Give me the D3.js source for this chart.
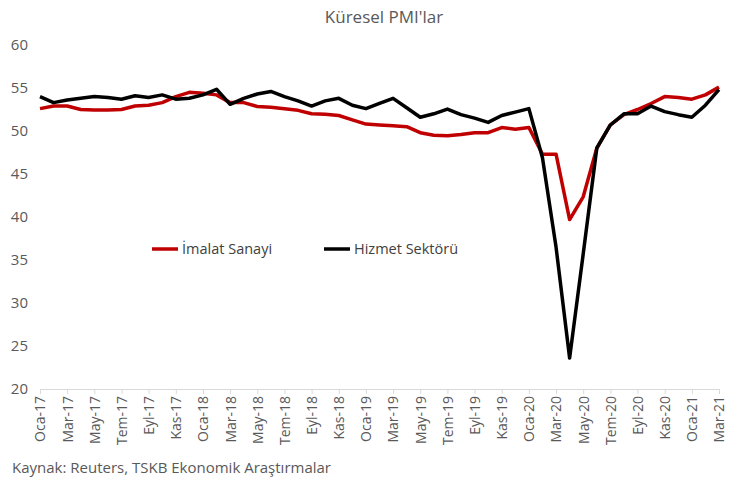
<!DOCTYPE html>
<html>
<head>
<meta charset="utf-8">
<script src="https://cdn.jsdelivr.net/npm/d3@7"></script>
<style>
  body { margin: 0; background: #fff; }
  text { font-family: "Open Sans", "Liberation Sans", sans-serif; }
</style>
</head>
<body>
<div id="chart"></div>
<script>
// Aylar (Oca-17 .. Mar-21)
const monthNames = ["Oca", "Şub", "Mar", "Nis", "May", "Haz", "Tem", "Ağu", "Eyl", "Eki", "Kas", "Ara"];
const months = [];
for (let y = 17; y <= 21; y++) {
  for (let m = 0; m < 12; m++) {
    if (y === 21 && m > 2) break;
    months.push(monthNames[m] + "-" + y);
  }
}

const imalat = [
  52.6, 52.9, 52.9, 52.5, 52.45, 52.45, 52.5, 52.9, 53.0, 53.3, 54.0, 54.5,
  54.4, 54.2, 53.3, 53.3, 52.85, 52.75, 52.6, 52.4, 52.0, 51.95, 51.8, 51.3,
  50.8, 50.7, 50.6, 50.5, 49.8, 49.5, 49.45, 49.6, 49.8, 49.8, 50.4, 50.2,
  50.4, 47.3, 47.3, 39.7, 42.35, 48.0, 50.7, 51.9, 52.5, 53.2, 54.0, 53.9,
  53.7, 54.2, 55.1
];

const hizmet = [
  54.0, 53.3, 53.6, 53.8, 54.0, 53.9, 53.7, 54.1, 53.9, 54.2, 53.7, 53.8,
  54.2, 54.85, 53.1, 53.8, 54.3, 54.6, 54.0, 53.5, 52.9, 53.5, 53.8, 53.0,
  52.6, 53.2, 53.8, 52.7, 51.6, 52.0, 52.55, 51.9, 51.5, 51.0, 51.8, 52.2,
  52.6, 46.9, 36.5, 23.6, 35.7, 48.0, 50.7, 52.0, 52.0, 52.9, 52.25, 51.9,
  51.6, 53.0, 54.8
];

const yTicks = [20, 25, 30, 35, 40, 45, 50, 55, 60];

const series = [
  { name: "İmalat Sanayi", values: imalat, color: "#C00000" },
  { name: "Hizmet Sektörü", values: hizmet, color: "#000000" },
];

const width = 740;
const height = 483;
const margin = { left: 40, right: 21, top: 45, bottom: 94 };

const svg = d3
  .select("#chart")
  .append("svg")
  .attr("width", width)
  .attr("height", height);

const xScale = d3
  .scalePoint()
  .domain(months)
  .range([margin.left, width - margin.right]);

const yScale = d3
  .scaleLinear()
  .domain([20, 60])
  .range([height - margin.bottom, margin.top]);

// Başlık
svg
  .append("text")
  .attr("x", 384)
  .attr("y", 23)
  .attr("text-anchor", "middle")
  .attr("font-size", "17px")
  .attr("fill", "#595959")
  .text("Küresel PMI'lar");

// Y ekseni (sadece etiketler)
const yAxis = svg
  .append("g")
  .attr("transform", `translate(${margin.left - 12}, 0)`)
  .call(d3.axisLeft(yScale).tickValues(yTicks).tickSize(0).tickPadding(0));
yAxis.select(".domain").remove();
yAxis
  .selectAll("text")
  .attr("font-size", "15px")
  .attr("fill", "#595959")
  .attr("font-family", "Open Sans, Liberation Sans, sans-serif");

// X ekseni
const labelMonths = months.filter((d, i) => i % 2 === 0);
const xAxis = svg
  .append("g")
  .attr("transform", `translate(0, ${height - margin.bottom})`)
  .call(d3.axisBottom(xScale).tickValues(labelMonths).tickSize(5).tickSizeOuter(0));
xAxis.select(".domain").attr("stroke", "#d9d9d9");
xAxis.selectAll(".tick line").attr("stroke", "#d9d9d9");
xAxis
  .selectAll("text")
  .attr("font-size", "14px")
  .attr("fill", "#595959")
  .attr("font-family", "Open Sans, Liberation Sans, sans-serif")
  .attr("text-anchor", "end")
  .attr("dy", "0.35em")
  .attr("transform", "translate(0, 7) rotate(-90)")
  .attr("x", 0)
  .attr("y", 0);

// Çizgiler
const line = d3
  .line()
  .x((d, i) => xScale(months[i]))
  .y((d) => yScale(d))
  .curve(d3.curveLinear);

series.forEach((s) => {
  svg
    .append("path")
    .datum(s.values)
    .attr("fill", "none")
    .attr("stroke", s.color)
    .attr("stroke-width", 3.5)
    .attr("stroke-linejoin", "round")
    .attr("d", line);
});

// Lejant
const legendItems = [
  { x: 152, text: "İmalat Sanayi", color: "#C00000" },
  { x: 324, text: "Hizmet Sektörü", color: "#000000" },
];
const legend = svg.append("g").attr("transform", "translate(0, 249)");
legendItems.forEach((d) => {
  legend
    .append("line")
    .attr("x1", d.x)
    .attr("x2", d.x + 26)
    .attr("y1", 0)
    .attr("y2", 0)
    .attr("stroke", d.color)
    .attr("stroke-width", 3.5);
  legend
    .append("text")
    .attr("x", d.x + 30)
    .attr("y", 0)
    .attr("dy", "0.35em")
    .attr("font-size", "14.5px")
    .attr("fill", "#404040")
    .text(d.text);
});

// Kaynak
svg
  .append("text")
  .attr("x", 12)
  .attr("y", 473)
  .attr("font-size", "15px")
  .attr("fill", "#595959")
  .text("Kaynak: Reuters, TSKB Ekonomik Araştırmalar");
</script>
</body>
</html>
